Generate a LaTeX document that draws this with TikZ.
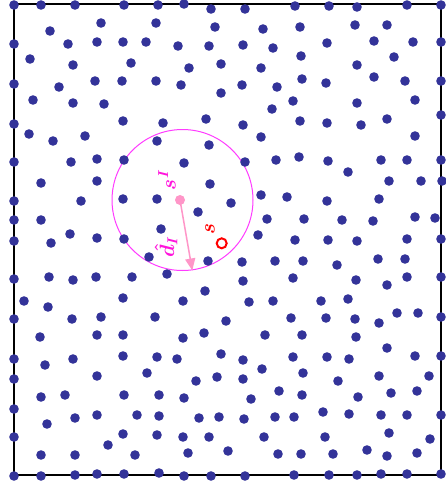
\documentclass[tikz,border=0pt]{standalone}
\usetikzlibrary{arrows.meta}
\definecolor{dotblue}{RGB}{51,51,153}
\definecolor{ringmag}{RGB}{255,60,255}
\definecolor{arrowpink}{RGB}{255,150,200}
\definecolor{labmag}{RGB}{255,20,220}
\tikzset{
  pt/.style={fill=dotblue},
  lab/.style={rotate=90, inner sep=0pt, font=\fontsize{20}{24}\selectfont\boldmath},
}
\begin{document}
\begin{tikzpicture}[x=1pt,y=-1pt]
\useasboundingbox (0,0) rectangle (446,488);
\fill[white] (0,0) rectangle (446,488);
\draw[line width=2pt] (14,4) rectangle (441,475);
% influence circle
\draw[ringmag, line width=1pt] (182.5,200) circle[radius=70.5pt];
% dots
\foreach \x/\y in {
14/5,41/5,75/5,124/5,158/5,184/4,211/9,245/9,295/6,329/6,357/7,407/5,441/5,
101/23,50/31,14/44,68/44,97/42,123/42,146/42,30/59,73/65,131/63,14/84,59/87,95/81,122/81,33/100,73/103,104/104,14/124,123/121,29/134,53/141,85/136,
156/23,215/27,263/29,300/27,178/46,209/46,243/45,273/48,301/56,189/68,221/64,261/68,156/81,181/85,221/93,242/85,277/87,302/79,293/101,272/109,163/123,206/119,243/125,300/121,157/141,209/145,261/137,184/163,245/162,276/160,299/157,
355/25,387/25,327/43,374/41,413/42,441/42,357/65,394/57,326/83,374/77,405/81,441/81,357/103,415/100,327/123,361/125,387/119,441/115,415/136,
14/162,71/162,97/159,124/160,41/183,97/181,14/201,81/201,123/199,14/220,41/220,70/234,14/241,51/243,97/238,124/239,149/257,14/279,49/277,73/280,96/277,132/277,24/301,48/307,123/298,14/319,72/319,101/317,40/337,97/335,123/335,
210/184,157/199,231/203,198/212,261/195,287/197,161/229,267/219,258/235,295/240,208/261,167/274,242/262,275/261,243/281,293/278,205/291,183/301,249/302,273/301,155/317,226/321,291/318,204/333,183/338,265/335,
328/161,381/160,407/160,441/160,348/172,389/181,421/181,442/181,327/201,379/199,304/219,342/220,373/221,415/217,435/218,328/240,357/241,407/239,441/239,303/261,337/265,378/259,405/259,356/280,387/285,407/277,441/277,321/301,348/299,326/318,355/319,379/323,397/313,418/313,441/317,302/335,356/337,
387/348,327/357,349/359,415/356,441/356,303/373,338/381,379/376,429/376,302/395,358/397,391/393,417/391,323/412,349/414,381/415,407/415,441/415,325/437,389/433,430/439,301/454,333/454,367/450,387/456,417/453,329/475,357/475,381/474,407/474,441/474,
14/359,45/365,73/359,123/356,14/379,97/376,147/373,41/397,65/395,124/395,14/409,47/424,75/418,97/415,137/415,14/437,123/434,108/445,41/455,75/455,135/455,14/476,41/476,75/475,97/474,124/474,
157/357,177/359,221/354,243/360,293/357,196/381,217/377,243/379,262/369,159/395,184/398,251/399,279/391,159/416,199/418,219/417,244/419,275/417,294/417,157/435,183/437,209/437,264/437,188/453,228/451,278/454,159/473,184/476,211/476,245/476,294/475}
  \fill[pt] (\x,\y) circle[radius=4.8pt];
% s^I point, distance arrow
\coordinate (sI) at (180,200);
\coordinate (rim) at (192.3,270.5);
\draw[arrowpink, line width=1.5pt, -{Triangle[length=12pt,width=10pt]}] (sI) -- (rim);
\fill[arrowpink] (sI) circle[radius=5pt];
\node[lab, text=labmag] (lsI) at (167,180) {$s^{I}$};
\node[lab, text=labmag] (ld) at (166,247) {$\hat{d}_I$};
% point s
\node[lab, text=red] (ls) at (210,229) {$s$};
\draw[red, line width=2pt] (221.7,243.3) circle[radius=5pt];
\end{tikzpicture}
\end{document}
